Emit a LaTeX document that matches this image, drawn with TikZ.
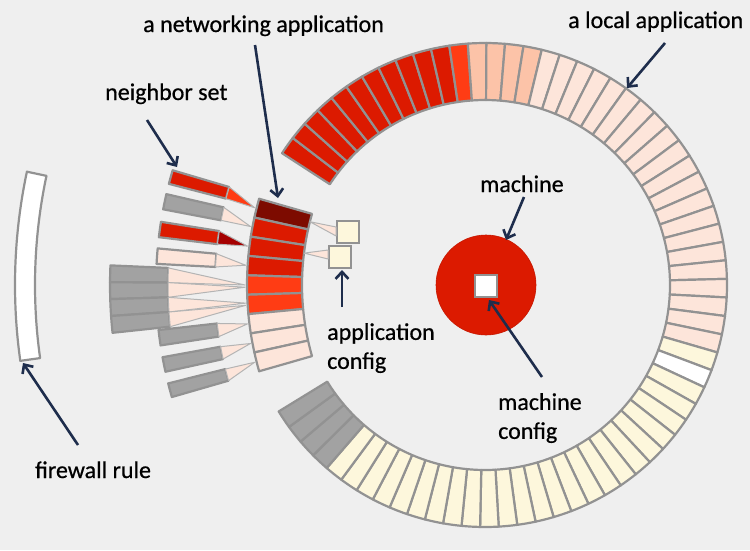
\documentclass[tikz,border=0pt]{standalone}
\usepackage{fontspec}
\setmainfont{Carlito}
\newfontfamily\lblfont{Carlito}[FakeBold=0.6]
\usetikzlibrary{arrows.meta}

\definecolor{bg}{HTML}{EFEFEF}
\definecolor{segred}{HTML}{DC1A00}
\definecolor{segorange}{HTML}{FF3C14}
\definecolor{segdark}{HTML}{7D0B00}
\definecolor{segsalmon}{HTML}{FCC3A8}
\definecolor{segpink}{HTML}{FDE5DA}
\definecolor{segyellow}{HTML}{FDF7DC}
\definecolor{seggray}{HTML}{A2A2A2}
\definecolor{segedge}{HTML}{929292}
\definecolor{linkedge}{HTML}{B4B4B4}
\definecolor{navy}{HTML}{1E2D4C}
\definecolor{trired}{HTML}{A50000}

\tikzset{
  seg/.style={draw=segedge, line width=2.2pt, line join=round},
  link/.style={draw=linkedge, line width=1pt, line join=round},
  callout/.style={draw=navy, line width=2.6pt, -{Straight Barb[length=7pt,width=13pt]}},
  lbltext/.style={font=\lblfont\fontsize{24}{29}\selectfont, text=black, inner sep=0pt},
}

% annular sector: centre x, centre y, inner r, outer r, start angle, end angle, fill
\newcommand\annsec[7]{%
  \filldraw[seg, fill=#7] ([shift={(#1,#2)}]#5:#3) -- ([shift={(#1,#2)}]#5:#4)
    arc[start angle=#5, end angle=#6, radius=#4]
    -- ([shift={(#1,#2)}]#6:#3)
    arc[start angle=#6, end angle=#5, radius=#3] -- cycle;}

% one cell of the machine ring (67 cells, clockwise from the upper left)
\newcommand\ringseg[2]{%
  \pgfmathsetmacro\sgA{-147+#1*4.4104}%
  \pgfmathsetmacro\sgB{\sgA+4.4104}%
  \annsec{485}{285}{185}{242}{\sgA}{\sgB}{#2}}

% one cell of the networking application arc
\newcommand\netseg[2]{%
  \pgfmathsetmacro\sgA{-164-#1*3.5556}%
  \pgfmathsetmacro\sgB{\sgA-3.5556}%
  \annsec{560}{285}{258}{313}{\sgA}{\sgB}{#2}}

% neighbour bar with its link triangle: angles (math sense), inner r, outer r, target angle, bar fill, link fill
\newcommand\nbr[7]{%
  \annsec{560}{285}{#3}{#4}{-#1}{-#2}{#6}%
  \filldraw[link, fill=#7] ([shift={(560,285)}]-#1:#3) -- ([shift={(560,285)}]-#5:315)
    -- ([shift={(560,285)}]-#2:#3) -- cycle;}

\begin{document}
\begin{tikzpicture}[x=1pt, y=-1pt]
  \useasboundingbox (0,0) rectangle (750,550);
  \fill[bg] (0,0) rectangle (750,550);

  % machine ring
  \foreach \i in {0,...,10} {\ringseg{\i}{segred}}
  \ringseg{11}{segorange}
  \foreach \i in {12,...,15} {\ringseg{\i}{segsalmon}}
  \foreach \i in {16,...,36} {\ringseg{\i}{segpink}}
  \ringseg{37}{segyellow}
  \ringseg{38}{white}
  \foreach \i in {39,...,62} {\ringseg{\i}{segyellow}}
  \foreach \i in {63,...,66} {\ringseg{\i}{seggray}}

  % firewall rule
  \annsec{560}{285}{525}{545}{-168}{-188}{white}

  % neighbour set
  \nbr{163.5}{165.5}{345}{404}{165.8}{segred}{segorange}
  \nbr{167.0}{169.2}{345}{404}{169.3}{seggray}{segpink}
  \nbr{171.0}{173.2}{345}{404}{172.9}{segred}{trired}
  \nbr{174.8}{177.0}{345}{404}{176.4}{segpink}{segpink}
  \nbr{177.50}{179.65}{392}{450}{180.0}{seggray}{segpink}
  \nbr{179.65}{181.80}{392}{450}{180.4}{seggray}{segpink}
  \nbr{181.80}{183.95}{392}{450}{183.3}{seggray}{segpink}
  \nbr{183.95}{186.10}{392}{450}{183.7}{seggray}{segpink}
  \nbr{186.4}{188.6}{345}{404}{187.1}{seggray}{segpink}
  \nbr{190.3}{192.4}{345}{404}{190.7}{seggray}{segpink}
  \nbr{194.1}{196.1}{345}{404}{194.2}{seggray}{segpink}

  % networking application
  \netseg{0}{segdark}
  \foreach \j in {1,2,3} {\netseg{\j}{segred}}
  \foreach \j in {4,5} {\netseg{\j}{segorange}}
  \foreach \j in {6,7,8} {\netseg{\j}{segpink}}

  % application config
  \node[draw=segedge, line width=1.8pt, fill=segyellow, minimum size=22pt, inner sep=0pt] (acfgA) at (348,232) {};
  \node[draw=segedge, line width=1.8pt, fill=segyellow, minimum size=22pt, inner sep=0pt] (acfgB) at (340,257) {};
  \filldraw[link, fill=segpink] ([shift={(560,285)}]-165.8:258) -- (acfgA.west |- 0,227) -- (acfgA.west |- 0,236) -- cycle;
  \filldraw[link, fill=segpink] ([shift={(560,285)}]-172.9:258) -- (acfgB.west |- 0,250) -- (acfgB.west |- 0,259) -- cycle;

  % machine and its config
  \node[circle, fill=segred, draw=segred!90!black, line width=0.6pt, minimum size=100pt, inner sep=0pt] (machine) at (486,285) {};
  \node[draw=segedge, line width=1.6pt, fill=white, minimum size=22pt, inner sep=0pt] (mcfg) at (486,286) {};

  % labels
  \node[lbltext, anchor=base west] (lblNet) at (143,32) {a networking application};
  \node[lbltext, anchor=base west] (lblNbr) at (105,100) {neighbor set};
  \node[lbltext, anchor=base west] (lblLocal) at (568,28) {a local application};
  \node[lbltext, anchor=base west] (lblMachine) at (480,192) {machine};
  \node[lbltext, anchor=north west, align=left] (lblMcfg) at (498,393) {machine\\config};
  \node[lbltext, anchor=north west, align=left] (lblAcfg) at (327,323) {application\\config};
  \node[lbltext, anchor=base west] (lblFw) at (35,478) {firewall rule};

  % callout arrows
  \coordinate (netTail) at (255,45);    \coordinate (netHead) at (278,198);
  \coordinate (nbrTail) at (147,120);   \coordinate (nbrHead) at (177,167);
  \coordinate (locTail) at (665,43);    \coordinate (locHead) at (627,88);
  \coordinate (macTail) at (524,197);   \coordinate (macHead) at (506,240);
  \coordinate (mcfgTail) at (542,377);  \coordinate (mcfgHead) at (489,300);
  \coordinate (acfgTail) at (342,307);  \coordinate (acfgHead) at (342,270);
  \coordinate (fwTail) at (78,445);     \coordinate (fwHead) at (23,363);
  \draw[callout] (netTail) -- (netHead);
  \draw[callout] (nbrTail) -- (nbrHead);
  \draw[callout] (locTail) -- (locHead);
  \draw[callout] (macTail) -- (macHead);
  \draw[callout] (mcfgTail) -- (mcfgHead);
  \draw[callout] (acfgTail) -- (acfgHead);
  \draw[callout] (fwTail) -- (fwHead);
\end{tikzpicture}
\end{document}
